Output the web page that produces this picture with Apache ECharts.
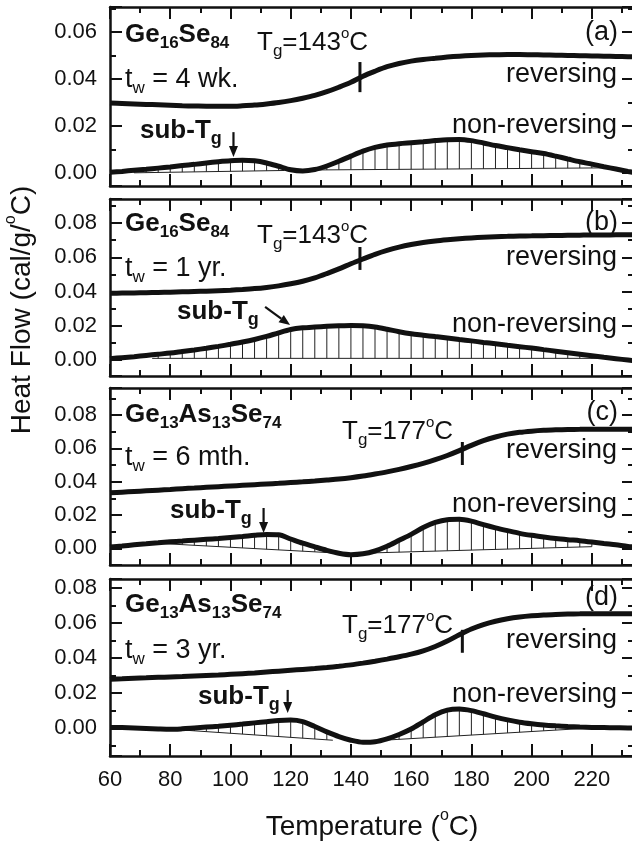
<!DOCTYPE html>
<html>
<head>
<meta charset="utf-8">
<script src="https://cdn.jsdelivr.net/npm/echarts@6/dist/echarts.min.js"></script>
<style>
html, body { margin: 0; padding: 0; background: #fff; }
#chart { width: 632px; height: 843px; }
</style>
</head>
<body>
<div id="chart"></div>
<script>
var dom = document.getElementById("chart");
var myChart = echarts.init(dom);

// temperature samples (oC)
var temps = [60, 64, 68, 72, 76, 80, 84, 88, 92, 96, 100, 104, 108, 112, 116, 120, 124, 128, 132, 136,
    140, 144, 148, 152, 156, 160, 164, 168, 172, 176, 180, 184, 188, 192, 196, 200, 204, 208, 212, 216,
    220, 224, 228, 232, 236];

// (a) Ge16Se84, tw = 4 wk.
var revA = [0.0298, 0.0296, 0.0294, 0.0292, 0.0290, 0.0288, 0.0286, 0.0285, 0.0284, 0.0284, 0.0284, 0.0286,
    0.0289, 0.0294, 0.0300, 0.0308, 0.0318, 0.0330, 0.0346, 0.0365, 0.0386, 0.0412, 0.0433, 0.0452, 0.0466,
    0.0476, 0.0483, 0.0488, 0.0493, 0.0497, 0.0500, 0.0502, 0.0503, 0.0504, 0.0504, 0.0503, 0.0502, 0.0501,
    0.0500, 0.0499, 0.0498, 0.0497, 0.0496, 0.0495, 0.0494];
var nonA = [0.0003, 0.0007, 0.0012, 0.0016, 0.0021, 0.0026, 0.0032, 0.0037, 0.0043, 0.0048, 0.0052, 0.0054,
    0.0052, 0.0043, 0.0029, 0.0014, 0.0009, 0.0015, 0.0030, 0.0050, 0.0072, 0.0093, 0.0109, 0.0119, 0.0125,
    0.0129, 0.0133, 0.0138, 0.0142, 0.0143, 0.0138, 0.0128, 0.0117, 0.0108, 0.0099, 0.0091, 0.0083, 0.0072,
    0.0060, 0.0048, 0.0038, 0.0027, 0.0017, 0.0007, -0.0002];

// (b) Ge16Se84, tw = 1 yr.
var revB = [0.0390, 0.0391, 0.0392, 0.0393, 0.0395, 0.0396, 0.0398, 0.0400, 0.0402, 0.0405, 0.0408, 0.0412,
    0.0417, 0.0424, 0.0433, 0.0445, 0.0460, 0.0480, 0.0505, 0.0532, 0.0562, 0.0590, 0.0617, 0.0640, 0.0659,
    0.0674, 0.0686, 0.0695, 0.0702, 0.0708, 0.0713, 0.0717, 0.0720, 0.0722, 0.0724, 0.0725, 0.0726, 0.0727,
    0.0728, 0.0729, 0.0730, 0.0730, 0.0731, 0.0731, 0.0731];
var nonB = [0.0008, 0.0014, 0.0020, 0.0027, 0.0034, 0.0041, 0.0050, 0.0059, 0.0069, 0.0080, 0.0092, 0.0105,
    0.0120, 0.0138, 0.0159, 0.0178, 0.0188, 0.0193, 0.0197, 0.0200, 0.0202, 0.0200, 0.0193, 0.0180, 0.0165,
    0.0153, 0.0145, 0.0137, 0.0129, 0.0120, 0.0112, 0.0103, 0.0095, 0.0086, 0.0078, 0.0070, 0.0061, 0.0052,
    0.0043, 0.0034, 0.0025, 0.0016, 0.0008, 0.0000, -0.0008];

// (c) Ge13As13Se74, tw = 6 mth.
var revC = [0.0333, 0.0337, 0.0341, 0.0345, 0.0349, 0.0353, 0.0358, 0.0362, 0.0366, 0.0370, 0.0374, 0.0378,
    0.0382, 0.0386, 0.0390, 0.0395, 0.0399, 0.0404, 0.0410, 0.0416, 0.0424, 0.0434, 0.0446, 0.0459, 0.0474,
    0.0491, 0.0510, 0.0532, 0.0557, 0.0586, 0.0618, 0.0646, 0.0668, 0.0685, 0.0696, 0.0703, 0.0708, 0.0711,
    0.0713, 0.0714, 0.0715, 0.0715, 0.0715, 0.0715, 0.0715];
var nonC = [0.0008, 0.0014, 0.0021, 0.0027, 0.0033, 0.0039, 0.0044, 0.0049, 0.0054, 0.0059, 0.0065, 0.0071,
    0.0078, 0.0083, 0.0081, 0.0056, 0.0031, 0.0009, -0.0012, -0.0029, -0.0038, -0.0033, -0.0016, 0.0012, 0.0048,
    0.0084, 0.0125, 0.0156, 0.0172, 0.0174, 0.0163, 0.0142, 0.0123, 0.0106, 0.0090, 0.0078, 0.0068, 0.0059,
    0.0052, 0.0046, 0.0038, 0.0029, 0.0021, 0.0011, 0.0006];

// (d) Ge13As13Se74, tw = 3 yr.
var revD = [0.0278, 0.0281, 0.0284, 0.0286, 0.0289, 0.0291, 0.0293, 0.0296, 0.0299, 0.0302, 0.0306, 0.0310,
    0.0314, 0.0319, 0.0324, 0.0329, 0.0334, 0.0339, 0.0345, 0.0352, 0.0360, 0.0370, 0.0381, 0.0393, 0.0406,
    0.0421, 0.0440, 0.0465, 0.0496, 0.0532, 0.0565, 0.0590, 0.0609, 0.0623, 0.0633, 0.0640, 0.0645, 0.0648,
    0.0650, 0.0651, 0.0652, 0.0652, 0.0652, 0.0652, 0.0652];
var nonD = [0.0003, 0.0002, 0.0000, -0.0003, -0.0006, -0.0008, -0.0005, 0.0000, 0.0005, 0.0010, 0.0016, 0.0022,
    0.0029, 0.0036, 0.0043, 0.0045, 0.0036, 0.0008, -0.0022, -0.0049, -0.0070, -0.0082, -0.0079, -0.0062, -0.0037,
    -0.0006, 0.0035, 0.0076, 0.0102, 0.0108, 0.0099, 0.0081, 0.0062, 0.0046, 0.0033, 0.0024, 0.0017, 0.0012,
    0.0008, 0.0005, 0.0003, 0.0002, 0.0001, 0.0000, 0.0000];

// integration baselines under the non-reversing peaks: [T1, v1, T2, v2]
var baseA = [[68, 0.0001, 118, 0.0011], [126, 0.0013, 224, 0.0022]];
var baseB = [[74, 0.0010, 224, 0.0010]];
var baseC = [[76, 0.0030, 134, -0.0027], [146, -0.0028, 220, 0.0010]];
var baseD = [[80, -0.0007, 134, -0.0070], [146, -0.0075, 222, 0.0002]];

// Tg marks on reversing curves: [Tg, low, high]
var tgMarks = [[143, 0.0344, 0.0472], [143, 0.0526, 0.0660], [177, 0.0500, 0.0638], [177, 0.0429, 0.0560]];
// sub-Tg arrows: [T from, v from, T to, v to]
var arrows = [[101, 0.0174, 101, 0.0068], [111.5, 0.0310, 119.8, 0.0204], [111, 0.0242, 111, 0.0092], [119, 0.0217, 119, 0.0086]];

// y ranges of the four panels
var yMins = [-0.0055, -0.0093, -0.0100, -0.0160];
var yMaxs = [0.0706, 0.0940, 0.0962, 0.0850];

var revs = [revA, revB, revC, revD];
var nons = [nonA, nonB, nonC, nonD];
var bases = [baseA, baseB, baseC, baseD];

var INK = '#111';
var FONT = "'Liberation Sans', Arial, sans-serif";
var gridTops = [7, 199, 388, 579];
var gridHeights = [179, 177, 177, 177];

function pairs(vals) {
    return temps.map(function (t, i) { return [t, vals[i]]; });
}

function hatchItems(curve, segs) {
    var out = [];
    segs.forEach(function (s) {
        temps.forEach(function (t, i) {
            if (t < s[0] || t > s[2]) return;
            var b = s[1] + (s[3] - s[1]) * (t - s[0]) / (s[2] - s[0]);
            if (curve[i] > b) out.push([t, b, curve[i]]);
        });
    });
    return out;
}

function yFmt(v) {
    var k = v / 0.02;
    return Math.abs(k - Math.round(k)) < 1e-6 ? v.toFixed(2) : '';
}
function xFmt(v) {
    return v % 20 === 0 ? String(v) : '';
}

function xAx(p, pos, minor) {
    return {
        type: 'value', gridIndex: p, position: pos, min: 60, max: 234, interval: minor ? 10 : 20,
        axisLine: {show: !minor, onZero: false, lineStyle: {color: INK, width: 2.5}},
        axisTick: {show: true, inside: true, length: minor ? 6 : 12, lineStyle: {color: INK, width: 2}},
        axisLabel: {show: !minor && pos === 'bottom' && p === 3, formatter: xFmt, fontSize: 22, color: INK,
            fontFamily: FONT, margin: 13},
        splitLine: {show: false}
    };
}

function yAx(p, pos, minor) {
    var step = minor ? 0.01 : 0.02;
    return {
        type: 'value', gridIndex: p, position: pos, min: yMins[p], max: yMaxs[p],
        minInterval: step, maxInterval: step,
        axisLine: {show: !minor, onZero: false, lineStyle: {color: INK, width: 2.5}},
        axisTick: {show: true, inside: true, length: minor ? 6 : 12, lineStyle: {color: INK, width: 2}},
        axisLabel: {show: !minor && pos === 'left', formatter: yFmt, fontSize: 22, color: INK,
            fontFamily: FONT, margin: 13},
        splitLine: {show: false}
    };
}

function renderHatch(params, api) {
    var p0 = api.coord([api.value(0), api.value(1)]);
    var p1 = api.coord([api.value(0), api.value(2)]);
    return {type: 'line', shape: {x1: p0[0], y1: p0[1], x2: p1[0], y2: p1[1]},
        style: {stroke: '#222', lineWidth: 1}};
}

function renderTg(params, api) {
    var p0 = api.coord([api.value(0), api.value(1)]);
    var p1 = api.coord([api.value(0), api.value(2)]);
    return {type: 'line', shape: {x1: p0[0], y1: p0[1], x2: p1[0], y2: p1[1]},
        style: {stroke: INK, lineWidth: 3}};
}

function renderArrow(params, api) {
    var a = api.coord([api.value(0), api.value(1)]);
    var b = api.coord([api.value(2), api.value(3)]);
    var ang = Math.atan2(b[1] - a[1], b[0] - a[0]);
    var L = 11, W = 4.5;
    var bx = b[0] - L * Math.cos(ang), by = b[1] - L * Math.sin(ang);
    return {type: 'group', children: [
        {type: 'line', shape: {x1: a[0], y1: a[1], x2: bx, y2: by}, style: {stroke: INK, lineWidth: 2.2}},
        {type: 'polygon', shape: {points: [[b[0], b[1]],
            [bx - W * Math.sin(ang), by + W * Math.cos(ang)],
            [bx + W * Math.sin(ang), by - W * Math.cos(ang)]]}, style: {fill: INK}}
    ]};
}

var grids = [], xAxes = [], yAxes = [], series = [];
for (var p = 0; p < 4; p++) {
    grids.push({left: 110, top: gridTops[p], width: 524, height: gridHeights[p],
        containLabel: false, outerBoundsMode: 'none'});
    xAxes.push(xAx(p, 'bottom', false), xAx(p, 'bottom', true), xAx(p, 'top', false), xAx(p, 'top', true));
    yAxes.push(yAx(p, 'left', false), yAx(p, 'left', true), yAx(p, 'right', false), yAx(p, 'right', true));
    var xi = 4 * p, yi = 4 * p;
    bases[p].forEach(function (s) {
        series.push({type: 'line', xAxisIndex: xi, yAxisIndex: yi, data: [[s[0], s[1]], [s[2], s[3]]],
            symbol: 'none', silent: true, z: 1, lineStyle: {color: '#222', width: 1}});
    });
    series.push({type: 'custom', xAxisIndex: xi, yAxisIndex: yi, renderItem: renderHatch,
        data: hatchItems(nons[p], bases[p]), encode: {x: 0, y: [1, 2]}, silent: true, z: 2});
    series.push({type: 'line', xAxisIndex: xi, yAxisIndex: yi, data: pairs(nons[p]), smooth: 0.3,
        symbol: 'none', z: 3, lineStyle: {color: INK, width: 5}});
    series.push({type: 'line', xAxisIndex: xi, yAxisIndex: yi, data: pairs(revs[p]), smooth: 0.3,
        symbol: 'none', z: 3, lineStyle: {color: INK, width: 5}});
    series.push({type: 'custom', xAxisIndex: xi, yAxisIndex: yi, renderItem: renderTg,
        data: [tgMarks[p]], encode: {x: 0, y: [1, 2]}, z: 4});
    series.push({type: 'custom', xAxisIndex: xi, yAxisIndex: yi, renderItem: renderArrow,
        data: [arrows[p]], encode: {x: [0, 2], y: [1, 3]}, z: 4});
}

function rs(size, weight, lh, va) {
    return {fontFamily: FONT, fontSize: size, fontWeight: weight, lineHeight: lh, verticalAlign: va, fill: INK};
}
var RICH = {
    m: rs(26, 'normal', 34, 'middle'),
    r: rs(27, 'normal', 34, 'middle'),
    b: rs(26, 'bold', 34, 'middle'),
    s: rs(17, 'normal', 11, 'bottom'),
    bs: rs(17, 'bold', 11, 'bottom'),
    g: rs(17, 'normal', 3, 'bottom'),
    bg: rs(18, 'bold', 3, 'bottom'),
    o: rs(15, 'normal', 17, 'top'),
    sb: rs(26, 'bold', 34, 'middle'),
    t: rs(28, 'normal', 38, 'middle'),
    to: rs(16, 'normal', 18, 'top')
};

function txt(x, y, text, align, rot) {
    return {type: 'text', x: x, y: y, rotation: rot || 0, z: 100,
        style: {text: text, rich: RICH, align: align || 'left', verticalAlign: 'middle', fill: INK,
            font: '26px ' + FONT}};
}

var geSe = '{b|Ge}{bs|16}{b|Se}{bs|84}';
var geAsSe = '{b|Ge}{bs|13}{b|As}{bs|13}{b|Se}{bs|74}';
var subTg = '{sb|sub-T}{bg|g}';
var graphics = [
    txt(125, 35, geSe), txt(257, 43, '{m|T}{g|g}{m|=143}{o|o}{m|C}'), txt(125, 80, '{r|t}{s|w}{r| = 4 wk.}'),
    txt(140, 131, subTg), txt(618, 33, '{r|(a)}', 'right'),
    txt(617, 75, '{r|reversing}', 'right'), txt(617, 126, '{r|non-reversing}', 'right'),

    txt(125, 224, geSe), txt(257, 236, '{m|T}{g|g}{m|=143}{o|o}{m|C}'), txt(125, 269, '{r|t}{s|w}{r| = 1 yr.}'),
    txt(177, 312, subTg), txt(618, 223, '{r|(b)}', 'right'),
    txt(617, 258, '{r|reversing}', 'right'), txt(617, 325, '{r|non-reversing}', 'right'),

    txt(125, 415, geAsSe), txt(342, 432, '{m|T}{g|g}{m|=177}{o|o}{m|C}'), txt(125, 458, '{r|t}{s|w}{r| = 6 mth.}'),
    txt(170, 511, subTg), txt(618, 413, '{r|(c)}', 'right'),
    txt(617, 451, '{r|reversing}', 'right'), txt(617, 505, '{r|non-reversing}', 'right'),

    txt(125, 605, geAsSe), txt(342, 626, '{m|T}{g|g}{m|=177}{o|o}{m|C}'), txt(125, 651, '{r|t}{s|w}{r| = 3 yr.}'),
    txt(198, 697, subTg), txt(618, 598, '{r|(d)}', 'right'),
    txt(617, 641, '{r|reversing}', 'right'), txt(617, 695, '{r|non-reversing}', 'right'),

    txt(372, 827, '{t|Temperature (}{to|o}{t|C)}', 'center'),
    txt(22, 310, '{t|Heat Flow (cal/g/}{to|o}{t|C)}', 'center', Math.PI / 2)
];

var option = {
    animation: false,
    backgroundColor: '#fff',
    grid: grids,
    xAxis: xAxes,
    yAxis: yAxes,
    series: series,
    graphic: graphics
};
myChart.setOption(option);
</script>
</body>
</html>
